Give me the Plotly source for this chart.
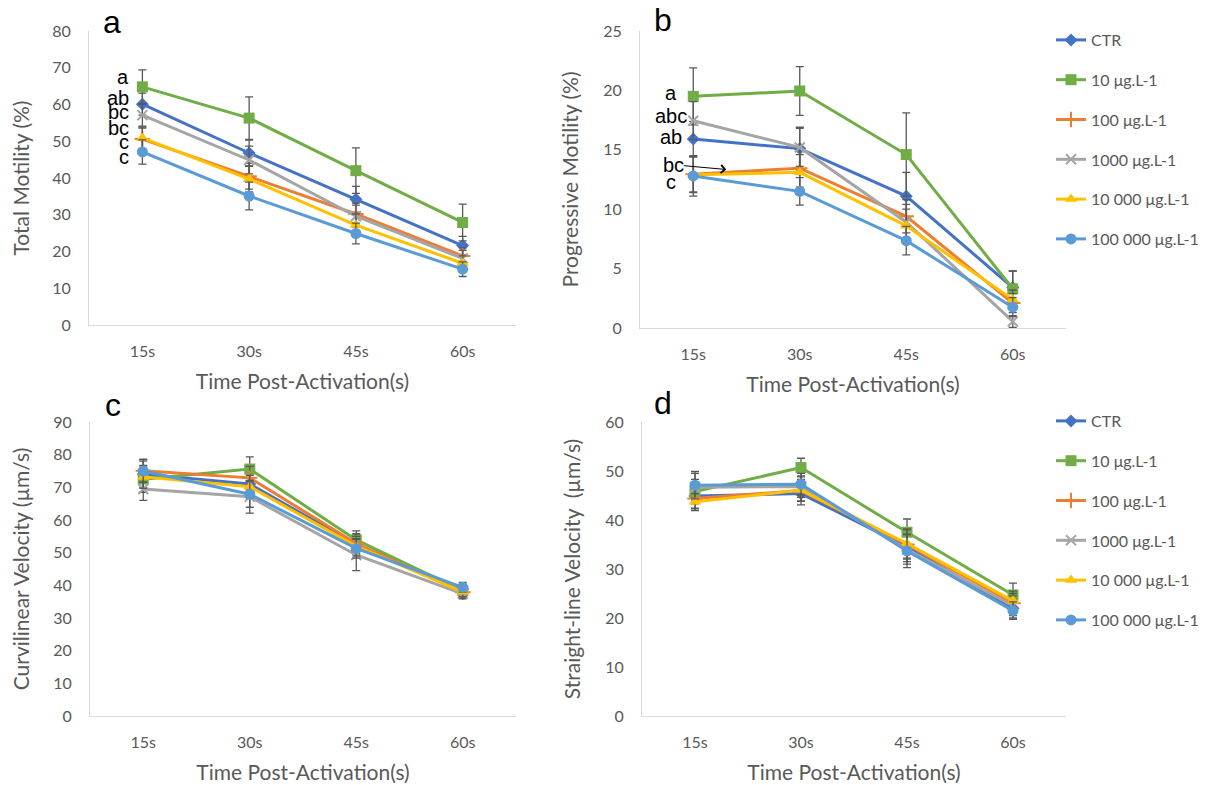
import plotly.graph_objects as go

W, H = 1213, 785
OX, OY = 8, 8  # page body margin compensation
times = ['15s', '30s', '45s', '60s']
series_names = ['CTR', '10 μg.L-1', '100 μg.L-1', '1000 μg.L-1', '10 000 μg.L-1', '100 000 μg.L-1']

# Panel a: Total motility (%)
tm_ctr = [60.1, 46.8, 34.2, 21.6]
tm_10 = [64.8, 56.3, 42.0, 27.9]
tm_100 = [50.6, 40.5, 30.2, 18.8]
tm_1000 = [57.1, 44.9, 29.6, 18.1]
tm_10000 = [50.9, 39.7, 27.2, 16.8]
tm_100000 = [47.1, 35.1, 24.9, 15.2]
tm_err_ctr = [3.0, 3.5, 3.5, 2.5]
tm_err_10 = [4.6, 5.8, 6.2, 5.0]
tm_err_100 = [3.0, 3.5, 3.0, 2.2]
tm_err_1000 = [3.0, 3.8, 3.0, 2.2]
tm_err_10000 = [3.0, 3.5, 3.0, 2.0]
tm_err_100000 = [3.3, 3.8, 2.8, 2.0]

# Panel b: Progressive motility (%)
pm_ctr = [15.9, 15.1, 11.1, 3.4]
pm_10 = [19.5, 19.95, 14.6, 3.3]
pm_100 = [12.95, 13.45, 9.4, 2.1]
pm_1000 = [17.45, 15.2, 8.9, 0.55]
pm_10000 = [12.9, 13.1, 8.6, 2.4]
pm_100000 = [12.8, 11.5, 7.35, 1.75]
pm_err_ctr = [1.5, 1.8, 2.0, 1.4]
pm_err_10 = [2.4, 2.05, 3.5, 1.5]
pm_err_100 = [1.5, 1.6, 1.4, 0.8]
pm_err_1000 = [1.6, 1.6, 1.5, 0.5]
pm_err_10000 = [1.5, 1.5, 1.4, 0.8]
pm_err_100000 = [1.7, 1.15, 1.2, 0.8]

# Panel c: Curvilinear velocity (µm/s)
vcl_ctr = [74.0, 71.0, 52.5, 38.8]
vcl_10 = [72.5, 75.6, 53.9, 38.3]
vcl_100 = [75.1, 72.9, 52.8, 37.9]
vcl_1000 = [69.5, 67.1, 49.3, 37.4]
vcl_10000 = [73.2, 70.2, 52.0, 38.0]
vcl_100000 = [75.0, 67.9, 51.3, 39.4]
vcl_err_ctr = [4.0, 4.0, 3.0, 1.5]
vcl_err_10 = [4.0, 3.7, 2.8, 1.5]
vcl_err_100 = [3.5, 3.5, 3.0, 1.5]
vcl_err_1000 = [3.5, 5.0, 4.8, 1.5]
vcl_err_10000 = [3.5, 3.5, 3.0, 1.5]
vcl_err_100000 = [3.5, 4.0, 3.0, 1.5]

# Panel d: Straight-line velocity (µm/s)
vsl_ctr = [44.9, 45.4, 34.5, 22.0]
vsl_10 = [45.8, 50.7, 37.5, 24.7]
vsl_100 = [44.4, 46.0, 35.0, 23.0]
vsl_1000 = [46.7, 46.8, 34.0, 22.5]
vsl_10000 = [43.7, 46.1, 35.2, 23.5]
vsl_100000 = [47.1, 47.3, 33.7, 21.5]
vsl_err_ctr = [2.5, 2.3, 3.0, 2.0]
vsl_err_10 = [2.5, 1.9, 2.7, 2.4]
vsl_err_100 = [2.5, 2.2, 3.0, 2.0]
vsl_err_1000 = [2.8, 2.2, 3.0, 2.0]
vsl_err_10000 = [1.7, 2.2, 3.0, 2.0]
vsl_err_100000 = [2.8, 2.2, 3.4, 1.8]

panels = [
    ([tm_ctr, tm_10, tm_100, tm_1000, tm_10000, tm_100000],
     [tm_err_ctr, tm_err_10, tm_err_100, tm_err_1000, tm_err_10000, tm_err_100000]),
    ([pm_ctr, pm_10, pm_100, pm_1000, pm_10000, pm_100000],
     [pm_err_ctr, pm_err_10, pm_err_100, pm_err_1000, pm_err_10000, pm_err_100000]),
    ([vcl_ctr, vcl_10, vcl_100, vcl_1000, vcl_10000, vcl_100000],
     [vcl_err_ctr, vcl_err_10, vcl_err_100, vcl_err_1000, vcl_err_10000, vcl_err_100000]),
    ([vsl_ctr, vsl_10, vsl_100, vsl_1000, vsl_10000, vsl_100000],
     [vsl_err_ctr, vsl_err_10, vsl_err_100, vsl_err_1000, vsl_err_10000, vsl_err_100000]),
]

colors = ['#4472C4', '#70AD47', '#ED7D31', '#A5A5A5', '#FFC000', '#5B9BD5']
symbols = ['diamond', 'square', 'cross-thin', 'x-thin', 'triangle-up', 'circle']
sizes = [10, 11, 11, 10, 11, 11]


def px_x(px):
    return (px - OX) / W


def px_y(py):
    return 1 - (py - OY) / H


fig = go.Figure()
axis_ids = [('x', 'y'), ('x2', 'y2'), ('x3', 'y3'), ('x4', 'y4')]
legend_for = {1: 'legend', 3: 'legend2'}

for p, (vals, errs) in enumerate(panels):
    xa, ya = axis_ids[p]
    for i, name in enumerate(series_names):
        thin = symbols[i] in ('cross-thin', 'x-thin')
        show = p in legend_for
        fig.add_trace(go.Scatter(
            x=times, y=vals[i], name=name, xaxis=xa, yaxis=ya,
            mode='lines+markers',
            line=dict(color=colors[i], width=3),
            marker=dict(symbol=symbols[i], size=sizes[i], color=colors[i],
                        line=dict(color=colors[i], width=2 if thin else 0)),
            error_y=dict(type='data', array=errs[i], visible=True,
                         color='#595959', thickness=1.3, width=4),
            showlegend=show,
            legend=legend_for.get(p, 'legend'),
            legendgroup=f'p{p}_{i}',
        ))

txt = '#595959'
font_main = 'Lato, Open Sans, sans-serif'
ax_common = dict(showgrid=False, zeroline=False, showline=True, linecolor='#D9D9D9',
                 linewidth=1, tickfont=dict(size=16, color=txt, family=font_main),
                 ticks='', fixedrange=True, automargin=False)

domains_x = [(px_x(89), px_x(516)), (px_x(640), px_x(1066)),
             (px_x(90), px_x(516)), (px_x(642), px_x(1066))]
domains_y = [(px_y(325), px_y(31)), (px_y(328), px_y(31)),
             (px_y(716), px_y(422)), (px_y(716), px_y(422))]
yranges = [(0, 80), (0, 25), (0, 90), (0, 60)]
ydticks = [10, 5, 10, 10]
ytitles = ['Total Motility (%)', 'Progressive Motility (%)',
           'Curvilinear Velocity (µm/s)', 'Straight-line Velocity\u00a0 (µm/s)']

layout = dict()
for p in range(4):
    sfx = '' if p == 0 else str(p + 1)
    layout['xaxis' + sfx] = dict(ax_common, domain=domains_x[p], anchor='y' + sfx,
                                 type='category', range=[-0.5, 3.5],
                                 ticklabelstandoff=12,
                                 title=dict(text='Time Post-Activation(s)', standoff=15,
                                            font=dict(size=21, color=txt, family=font_main)))
    layout['yaxis' + sfx] = dict(ax_common, domain=domains_y[p], anchor='x' + sfx,
                                 range=list(yranges[p]), dtick=ydticks[p], tick0=0,
                                 ticklabelstandoff=14,
                                 title=dict(text=ytitles[p], standoff=18,
                                            font=dict(size=21, color=txt, family=font_main)))

legend_style = dict(font=dict(size=16, color=txt, family=font_main), bgcolor='rgba(0,0,0,0)',
                    itemwidth=30, tracegroupgap=16, traceorder='grouped',
                    xanchor='left', yanchor='top', x=px_x(1051))

fig.update_layout(
    width=W, height=H, autosize=False,
    margin=dict(l=0, r=0, t=0, b=0, autoexpand=False),
    paper_bgcolor='white', plot_bgcolor='white',
    showlegend=True,
    legend=dict(legend_style, y=px_y(23)),
    legend2=dict(legend_style, y=px_y(404)),
    **layout,
)

# panel letters
for letter, px, py in [('a', 112, 22), ('b', 663, 20), ('c', 113, 405), ('d', 663, 403)]:
    fig.add_annotation(text=letter, xref='paper', yref='paper', x=px_x(px), y=px_y(py),
                       showarrow=False, xanchor='center', yanchor='middle',
                       font=dict(size=32, color='black', family='Liberation Sans, Arial'))

# significance letters, panel a
sig_a = [('a', 67.6), ('ab', 61.7), ('bc', 58.0), ('bc', 53.7), ('c', 49.7), ('c', 45.8)]
for t, yv in sig_a:
    fig.add_annotation(text=t, xref='x', yref='y', x='15s', y=yv, showarrow=False,
                       xanchor='right', yanchor='middle', xshift=-11,
                       font=dict(size=20, color='black', family='Liberation Sans, Arial'))

# significance letters, panel b
sig_b = [('a', 19.75, -22), ('abc', 17.85, -22), ('ab', 16.05, -22), ('bc', 13.7, -20), ('c', 12.3, -22)]
for t, yv, sh in sig_b:
    fig.add_annotation(text=t, xref='x2', yref='y2', x='15s', y=yv, showarrow=False,
                       xanchor='center', yanchor='middle', xshift=sh,
                       font=dict(size=20, color='black', family='Liberation Sans, Arial'))

fig.add_annotation(text='', xref='x2', yref='y2', x=0.31, y=13.34, ax=-44, ay=-4,
                   showarrow=True, arrowhead=4, arrowsize=1.6, arrowwidth=1, arrowcolor='black')

fig.write_html('out.html')
